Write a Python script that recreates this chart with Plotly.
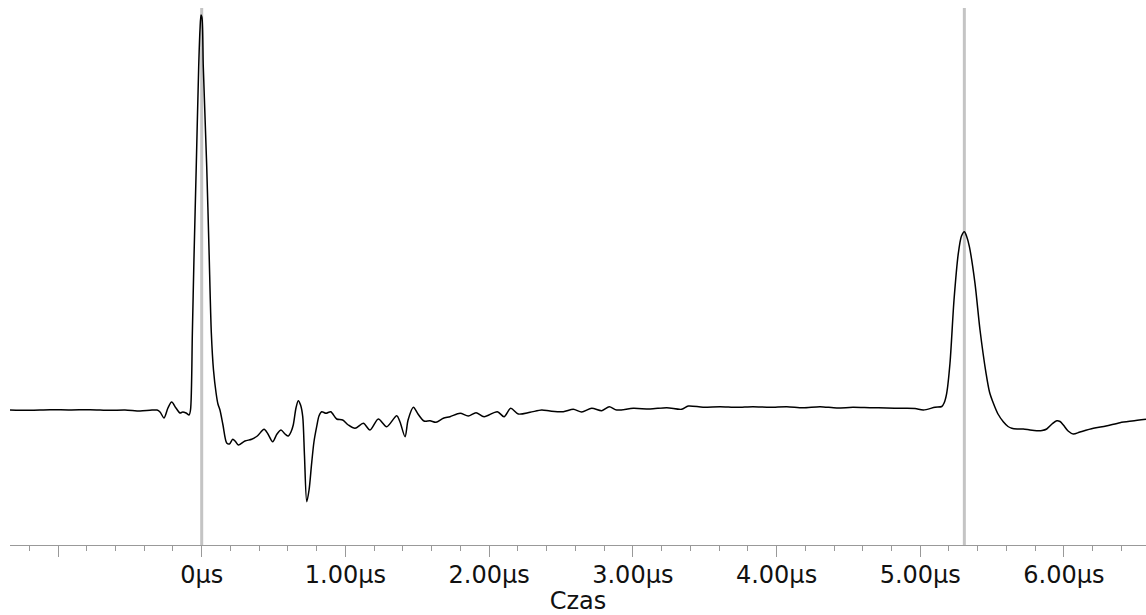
import plotly.graph_objects as go

# time in microseconds, amplitude in arbitrary units
time_us = [
    -1.334, -1.195, -1.056, -0.917, -0.777, -0.638, -0.534, -0.429, -0.360, -0.311,
    -0.290, -0.262, -0.235, -0.209, -0.179, -0.151, -0.132, -0.109, -0.088, -0.078,
    -0.065, -0.054, -0.038, -0.021, -0.012, -0.005, 0.002, 0.011, 0.035, 0.051,
    0.067, 0.082, 0.100, 0.113, 0.127, 0.148, 0.174, 0.193, 0.216, 0.235,
    0.255, 0.301, 0.348, 0.387, 0.434, 0.461, 0.494, 0.524, 0.552, 0.580,
    0.603, 0.621, 0.637, 0.656, 0.672, 0.688, 0.703, 0.715, 0.731, 0.747,
    0.765, 0.781, 0.800, 0.816, 0.835, 0.865, 0.898, 0.939, 0.981, 1.020,
    1.067, 1.125, 1.171, 1.229, 1.287, 1.357, 1.380, 1.415, 1.436, 1.473,
    1.505, 1.547, 1.589, 1.630, 1.681, 1.728, 1.798, 1.855, 1.909, 1.965,
    2.057, 2.104, 2.150, 2.203, 2.285, 2.366, 2.424, 2.516, 2.586, 2.644,
    2.714, 2.784, 2.836, 2.888, 3.003, 3.120, 3.236, 3.340, 3.386, 3.489,
    3.607, 3.723, 3.836, 3.955, 4.071, 4.184, 4.303, 4.419, 4.532, 4.651,
    4.767, 4.880, 4.964, 5.022, 5.103, 5.150, 5.166, 5.184, 5.207, 5.235,
    5.265, 5.287, 5.307, 5.322, 5.342, 5.381, 5.416, 5.458, 5.482, 5.509,
    5.541, 5.578, 5.611, 5.637, 5.674, 5.717, 5.764, 5.811, 5.848, 5.880,
    5.917, 5.950, 5.973, 5.996, 6.029, 6.065, 6.112, 6.205, 6.293, 6.390,
    6.474, 6.571,
]
amplitude = [
    0.000, -0.003, 0.003, 0.000, 0.003, -0.003, 0.000, -0.010, -0.003, 0.000,
    -0.020, -0.080, 0.020, 0.080, 0.020, -0.030, -0.020, -0.030, -0.050, 0.000,
    0.770, 1.500, 2.430, 3.430, 3.800, 3.950, 3.920, 3.430, 2.430, 1.600,
    0.770, 0.400, 0.170, 0.060, 0.000, -0.150, -0.330, -0.340, -0.293, -0.315,
    -0.350, -0.310, -0.293, -0.260, -0.193, -0.240, -0.317, -0.240, -0.200, -0.240,
    -0.260, -0.220, -0.150, 0.020, 0.093, 0.050, -0.067, -0.450, -0.917, -0.800,
    -0.533, -0.320, -0.167, -0.060, -0.017, -0.033, -0.017, -0.090, -0.100, -0.150,
    -0.183, -0.133, -0.200, -0.090, -0.167, -0.057, -0.120, -0.267, -0.100, 0.027,
    -0.040, -0.110, -0.107, -0.123, -0.083, -0.067, -0.033, -0.060, -0.027, -0.067,
    -0.017, -0.067, 0.017, -0.040, -0.023, 0.000, -0.010, -0.017, 0.007, -0.020,
    0.017, -0.007, 0.033, 0.000, 0.017, 0.010, 0.023, 0.007, 0.040, 0.027,
    0.033, 0.027, 0.033, 0.027, 0.033, 0.023, 0.033, 0.020, 0.027, 0.023,
    0.020, 0.017, 0.015, 0.000, 0.027, 0.035, 0.070, 0.167, 0.467, 1.100,
    1.567, 1.740, 1.783, 1.740, 1.633, 1.267, 0.800, 0.367, 0.180, 0.067,
    -0.040, -0.117, -0.165, -0.183, -0.190, -0.190, -0.200, -0.207, -0.205, -0.190,
    -0.140, -0.107, -0.115, -0.150, -0.210, -0.240, -0.220, -0.183, -0.160, -0.127,
    -0.110, -0.093,
]

marker_times = [0.0, 5.307]
tick_values = [-1, 0, 1, 2, 3, 4, 5, 6]
tick_labels = ["", "0μs", "1.00μs", "2.00μs", "3.00μs", "4.00μs", "5.00μs", "6.00μs"]

fig = go.Figure()
fig.add_trace(go.Scatter(
    x=time_us, y=amplitude, mode="lines",
    line=dict(color="#000000", width=1.5, shape="spline", smoothing=0.8),
    hoverinfo="skip", showlegend=False,
))

for t in marker_times:
    fig.add_shape(type="line", xref="x", yref="paper", x0=t, x1=t, y0=0, y1=1,
                  line=dict(color="#c4c4c4", width=3), layer="below")

fig.update_layout(
    width=1146, height=615,
    margin=dict(l=10, r=0, t=8, b=70),
    paper_bgcolor="white", plot_bgcolor="white",
    font=dict(family="DejaVu Sans", size=24, color="#111111"),
    xaxis=dict(
        range=[-1.334, 6.571],
        tickmode="array", tickvals=tick_values, ticktext=tick_labels,
        ticks="outside", ticklen=11, tickwidth=1, tickcolor="#999999",
        ticklabelstandoff=-3,
        showline=True, linecolor="#999999", linewidth=1,
        showgrid=False, zeroline=False,
        tickfont=dict(family="DejaVu Sans", size=24, color="#111111"),
        title=dict(text="Czas", standoff=0,
                   font=dict(family="DejaVu Sans", size=24, color="#111111")),
        minor=dict(tickmode="linear", tick0=0, dtick=0.2, ticks="outside",
                   ticklen=5, tickcolor="#999999", tickwidth=1, showgrid=False),
    ),
    yaxis=dict(
        range=[-1.35, 4.02],
        visible=False, showgrid=False, zeroline=False,
    ),
)

fig.write_html(
    "out.html",
    config={"displayModeBar": False},
    post_script="document.body.style.margin='0';document.body.style.overflow='hidden';",
)
